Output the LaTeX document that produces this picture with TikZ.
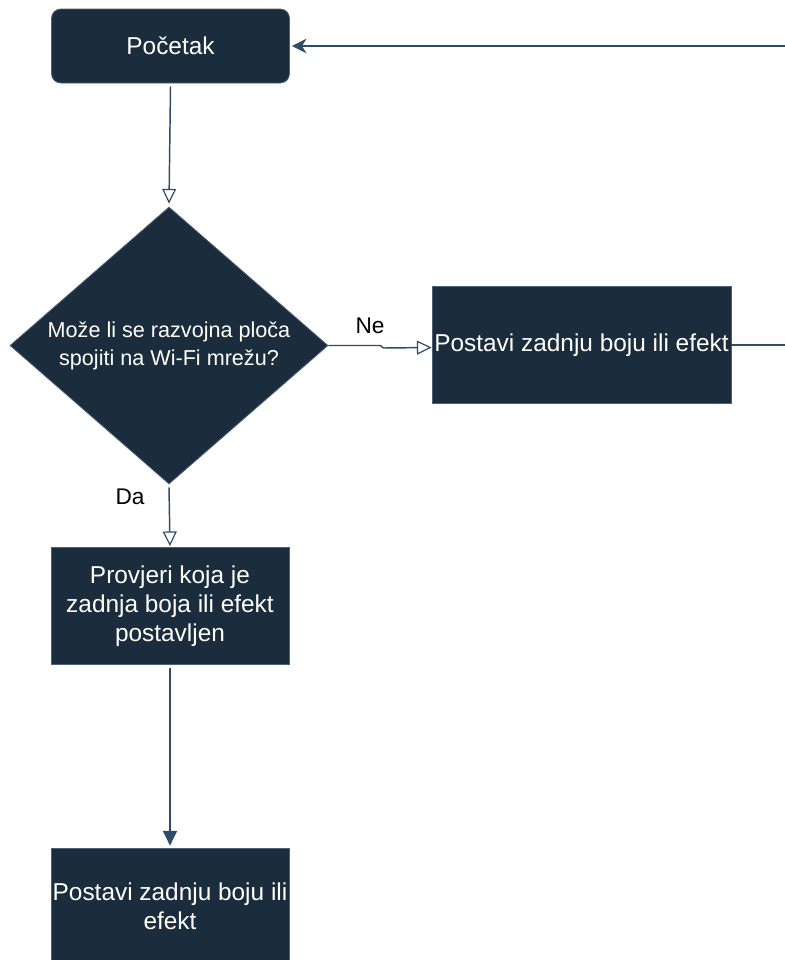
\documentclass[tikz,border=0pt]{standalone}
\usepackage{fontspec}
\setmainfont{Liberation Sans}
\usetikzlibrary{arrows.meta,shapes.geometric,calc}
\definecolor{fillc}{HTML}{1B2C3D}
\definecolor{edgec}{HTML}{4A6179}
\definecolor{linec}{HTML}{2E4D68}
\tikzset{
  boxstyle/.style={draw=edgec, line width=0.6pt, fill=fillc, text=white, align=center,
    minimum width=178.5pt, minimum height=87.75pt, inner sep=0pt,
    font=\fontsize{18.3}{21.75}\selectfont},
  widebox/.style={boxstyle, minimum width=224.25pt},
  startstyle/.style={boxstyle, rounded corners=7pt, minimum height=55.5pt},
  decstyle/.style={shape=diamond, draw=edgec, line width=0.6pt, fill=fillc, text=white, align=center,
    aspect=1.148, minimum width=238.5pt, minimum height=207.75pt, inner sep=0pt,
    font=\fontsize{16.2}{21}\selectfont},
  conn/.style={draw=linec, line width=1.1pt},
  openhead/.style={-{Triangle[open, length=11pt, width=10.5pt, line width=0.9pt]}},
  fullhead/.style={-{Triangle[length=11pt, width=10.5pt, fill=linec]}},
  backhead/.style={-{Stealth[length=11pt, width=11pt, inset=3.5pt]}},
  lbl/.style={text=black, font=\fontsize{17}{20}\selectfont, inner sep=0pt}
}
\begin{document}
\begin{tikzpicture}[x=0.75pt, y=-0.75pt]
\clip (0,0) rectangle (785,960);
\fill[white] (0,0) rectangle (785,960);

\node[startstyle] (start) at (170.5,46) {Početak};
\node[decstyle] (dec) at (169,345.5) {Može li se razvojna ploča\\spojiti na Wi-Fi mrežu?};
\node[widebox] (setA) at (581.5,345) {Postavi zadnju boju ili efekt};
\node[boxstyle] (check) at (170,606) {Provjeri koja je\\zadnja boja ili efekt\\postavljen};
\node[boxstyle] (setB) at (170,906.5) {Postavi zadnju boju ili\\efekt};

\coordinate (loopA) at (800,345);
\coordinate (loopB) at (800,46);

\node[lbl] (ne) at (370,326) {Ne};
\node[lbl] (da) at (130,497) {Da};

\draw[conn, openhead] ($(start.south)+(0,3)$) -- ($(dec.north)+(0,-3)$);
\draw[conn, openhead] (dec.east) -- ++(52,0) -- ++(3,2.5) -- ($(setA.west)+(0,2.5)$);
\draw[conn, openhead] ($(dec.south)+(0,3)$) -- ($(check.north)+(0,-1)$);
\draw[conn, fullhead] ($(check.south)+(0,3)$) -- ($(setB.north)+(0,-2)$);
\draw[conn, backhead] (setA.east) -- (loopA) -- (loopB) -- ($(start.east)+(2,0)$);
\end{tikzpicture}
\end{document}
